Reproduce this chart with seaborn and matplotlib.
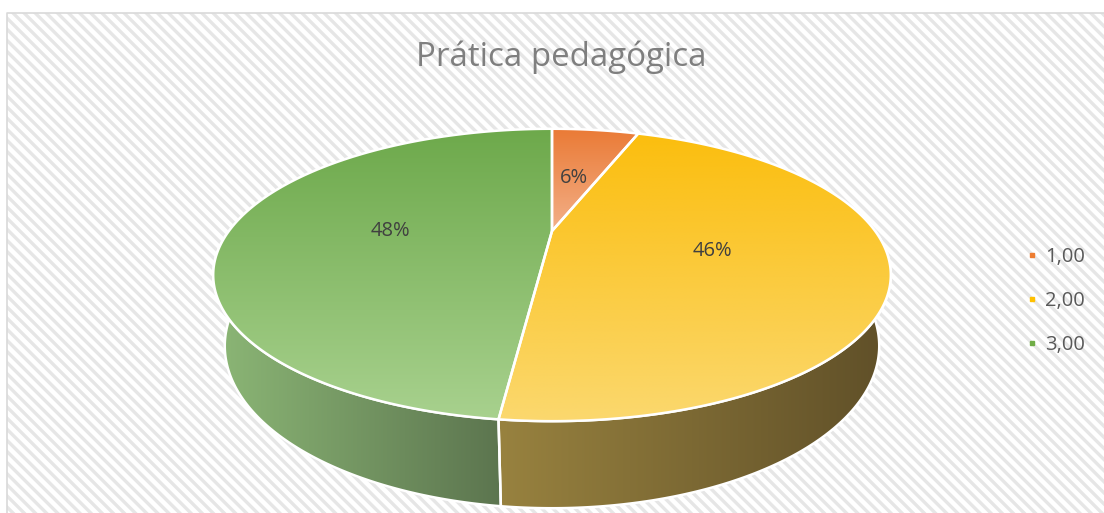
import numpy as np
import matplotlib
matplotlib.use("Agg")
import matplotlib.pyplot as plt
from matplotlib.patches import Polygon, Rectangle
from matplotlib.lines import Line2D
from matplotlib.colors import LinearSegmentedColormap
import seaborn as sns

# data
categories = ["1,00", "2,00", "3,00"]
counts = [3, 25, 26]
pct_labels = ["6%", "46%", "48%"]
title = "Prática pedagógica"

# styling (Excel-like 3D pie)
top_colors = [("#ea7a35", "#f3b089"), ("#fbbe0e", "#fbd86e"), ("#6da94b", "#a8d18e")]
side_colors = [("#b0632f", "#7d4520"), ("#98823f", "#5f4f28"), ("#8cb776", "#5c754f")]
legend_colors = ["#ed7d31", "#ffc000", "#70ad47"]

sns.set_theme(style="white")
plt.rcParams["font.family"] = ["Open Sans", "DejaVu Sans"]
plt.rcParams["hatch.linewidth"] = 2.4

W, H = 1104, 513
fig = plt.figure(figsize=(W / 100, H / 100), dpi=100, facecolor="white")
ax = fig.add_axes([0, 0, 1, 1])
ax.set_axis_off()

# hatched plot area
bg = Rectangle((7, 13), W, H, facecolor="white", edgecolor="#e6e6e6",
               hatch="\\\\\\", linewidth=0, zorder=0)
ax.add_patch(bg)
ax.plot([7, 7, W], [H, 13, 13], color="#d9d9d9", lw=1.2, zorder=0.5)

# perspective projection of the pie disc
CX, CY = 552, 231
F, L, ALPHA, DEPTH = 979, 3.03, np.radians(24.3), 0.237


def project(theta, z=0.0, r=1.0):
    u, v = r * np.sin(theta), r * np.cos(theta)
    d = L + v * np.cos(ALPHA) - z * np.sin(ALPHA)
    x = CX + F * u / d
    y = CY - F * (v * np.sin(ALPHA) + z * np.cos(ALPHA)) / d
    return np.column_stack([np.atleast_1d(x), np.atleast_1d(y)])


def gradient_fill(xy, c0, c1, vertical, zorder):
    patch = Polygon(xy, closed=True, facecolor="none", edgecolor="white",
                    lw=1.8, joinstyle="round", zorder=zorder + 0.1)
    ax.add_patch(patch)
    x0, y0 = xy.min(axis=0)
    x1, y1 = xy.max(axis=0)
    cmap = LinearSegmentedColormap.from_list("g", [c0, c1])
    grad = np.linspace(0, 1, 256)
    img = grad[:, None] if vertical else grad[None, :]
    im = ax.imshow(img, cmap=cmap, extent=(x0, x1, y1, y0), origin="upper",
                   aspect="auto", interpolation="bilinear", zorder=zorder)
    im.set_clip_path(patch)


fracs = np.array(counts) / np.sum(counts)
bounds = np.concatenate([[0], np.cumsum(fracs)]) * 2 * np.pi

# side walls (front half only)
for i in range(len(counts)):
    a = max(bounds[i], np.pi / 2)
    b = min(bounds[i + 1], 3 * np.pi / 2)
    if a >= b:
        continue
    t = np.linspace(a, b, 200)
    xy = np.vstack([project(t, 0), project(t[::-1], -DEPTH)])
    gradient_fill(xy, side_colors[i][0], side_colors[i][1], False, 2)

# top faces
for i in range(len(counts)):
    t = np.linspace(bounds[i], bounds[i + 1], 300)
    xy = np.vstack([[CX, CY], project(t, 0)])
    gradient_fill(xy, top_colors[i][0], top_colors[i][1], True, 3)

# percentage labels
for i, lab in enumerate(pct_labels):
    mid = (bounds[i] + bounds[i + 1]) / 2
    (lx, ly), = project(mid, 0, 0.5)
    ax.text(lx - 2, ly + 4, lab, ha="center", va="center", fontsize=14.5,
            color="#404040", zorder=5)

ax.text(561, 66, title, ha="center", va="baseline", fontsize=23.8,
        color="#7f7f7f", zorder=5)

handles = [Line2D([], [], marker="s", linestyle="none", markersize=3.5,
                  markerfacecolor=c, markeredgecolor=c) for c in legend_colors]
ax.legend(handles, categories, loc="center left",
          bbox_to_anchor=(1012 / W, 1 - 301 / H), frameon=False,
          fontsize=14.5, labelcolor="#595959", labelspacing=1.2,
          handlelength=0.6, handletextpad=0.35, borderpad=0.2)

ax.set_xlim(0, W)
ax.set_ylim(H, 0)
fig.savefig("out.png", dpi=100, facecolor="white")
